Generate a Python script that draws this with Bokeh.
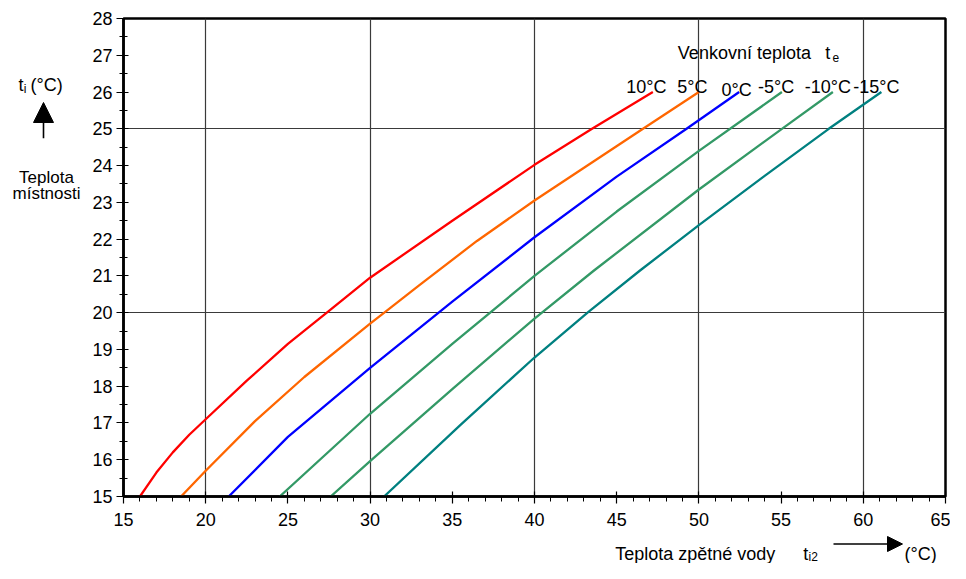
from bokeh.plotting import figure
from bokeh.models import Range1d, FixedTicker, Label, Arrow, NormalHead
from bokeh.layouts import column, row
from bokeh.embed import file_html
from bokeh.resources import INLINE

# ---- data ----
x_10 = [16.0, 17.0, 18.0, 19.0, 20.0, 22.5, 25.0, 27.5, 30.0, 35.0, 40.0, 43.5, 47.2]
y_10 = [15.0, 15.65, 16.2, 16.68, 17.1, 18.15, 19.15, 20.05, 20.95, 22.5, 24.02, 25.0, 26.0]

x_5 = [18.5, 20.0, 23.0, 26.0, 30.0, 31.0, 33.0, 36.5, 40.0, 46.6, 50.0]
y_5 = [15.0, 15.7, 17.05, 18.25, 19.7, 20.05, 20.75, 21.95, 23.05, 25.0, 26.0]

x_0 = [21.4, 25.0, 30.0, 35.0, 40.0, 45.0, 49.25, 52.45]
y_0 = [15.0, 16.62, 18.5, 20.3, 22.05, 23.7, 25.0, 26.0]

x_m5 = [24.5, 30.0, 35.0, 40.0, 45.0, 50.0, 55.05]
y_m5 = [15.0, 17.25, 19.15, 21.0, 22.75, 24.4, 26.0]

x_m10 = [27.6, 30.0, 35.0, 40.0, 43.6, 50.0, 55.05, 58.15]
y_m10 = [15.0, 15.96, 17.92, 19.84, 21.14, 23.35, 25.0, 26.0]

x_m15 = [30.85, 35.5, 40.0, 43.3, 46.4, 50.0, 54.0, 57.9, 61.1]
y_m15 = [15.0, 16.95, 18.78, 20.03, 21.14, 22.38, 23.72, 25.0, 26.0]

series_labels = ["10°C", "5°C", "0°C", "-5°C", "-10°C", "-15°C"]
series_colors = ["#FF0000", "#FF6600", "#0000FF", "#339966", "#339966", "#008080"]

x_ticks = [15, 20, 25, 30, 35, 40, 45, 50, 55, 60, 65]
y_ticks = list(range(15, 29))

FONT = "Liberation Sans"

MAIN_H = 535
LEFT_W = 84
BOTTOM_H = 28

p = figure(width=950 - LEFT_W, height=MAIN_H, output_backend="svg", toolbar_location=None,
           x_range=Range1d(15, 65), y_range=Range1d(15, 28),
           min_border_left=39, min_border_right=5, min_border_top=18, min_border_bottom=39)
p.background_fill_color = "white"
p.border_fill_color = "white"
p.outline_line_color = "black"
p.outline_line_width = 2.5

# axes
p.xaxis.ticker = FixedTicker(ticks=x_ticks, minor_ticks=list(range(15, 66)))
p.yaxis.ticker = FixedTicker(ticks=y_ticks, minor_ticks=[15 + 0.5 * i for i in range(27)])
for ax in (p.xaxis, p.yaxis):
    ax.axis_line_color = "black"
    ax.axis_line_width = 2.5
    ax.major_tick_line_color = "black"
    ax.major_tick_line_width = 1.2
    ax.minor_tick_line_color = "black"
    ax.minor_tick_line_width = 1.0
    ax.major_label_text_font = FONT
    ax.major_label_text_font_size = "18px"
    ax.major_label_text_color = "black"
p.xaxis.major_tick_out = 7
p.xaxis.major_tick_in = 5
p.xaxis.minor_tick_out = 5
p.xaxis.minor_tick_in = 0
p.xaxis.major_label_standoff = 9
p.yaxis.major_tick_out = 7
p.yaxis.major_tick_in = 5
p.yaxis.minor_tick_out = 4
p.yaxis.minor_tick_in = 4
p.yaxis.major_label_standoff = 4

# grid
p.xgrid.ticker = FixedTicker(ticks=[20, 30, 40, 50, 60])
p.ygrid.ticker = FixedTicker(ticks=[20, 25])
for g in (p.xgrid, p.ygrid):
    g.grid_line_color = "#3a3a3a"
    g.grid_line_width = 1.2
    g.grid_line_alpha = 1.0

# curves
xs = [x_10, x_5, x_0, x_m5, x_m10, x_m15]
ys = [y_10, y_5, y_0, y_m5, y_m10, y_m15]
for xv, yv, c in zip(xs, ys, series_colors):
    p.line(xv, yv, line_color=c, line_width=2.3, line_join="round")


def txt(fig, x, y, t, size="18px", align="left"):
    fig.add_layout(Label(x=x, y=y, text=t, text_align=align, text_baseline="alphabetic",
                         text_font=FONT, text_font_size=size, text_color="black"))


# series labels
label_pos = [(46.8, 26.14), (49.6, 26.14), (52.3, 26.06), (54.7, 26.14), (57.85, 26.14), (60.8, 26.14)]
for (lx, ly), t in zip(label_pos, series_labels):
    txt(p, lx, ly, t, align="center")

# legend title
txt(p, 48.72, 27.06, "Venkovní teplota")
txt(p, 57.68, 27.06, "t")
txt(p, 58.12, 26.95, "e", size="12px")


def blank(w, h):
    f = figure(width=w, height=h, output_backend="svg", toolbar_location=None,
               x_range=Range1d(0, w), y_range=Range1d(h, 0),
               min_border=0, min_border_left=0, min_border_right=0,
               min_border_top=0, min_border_bottom=0)
    f.axis.visible = False
    f.grid.visible = False
    f.outline_line_color = None
    f.background_fill_color = "white"
    f.border_fill_color = "white"
    return f


# left block: y-axis title
left = blank(LEFT_W, MAIN_H)
txt(left, 18, 74.6, "t")
txt(left, 23.3, 78.6, "i", size="12px")
txt(left, 30, 74.6, "(°C)")
left.add_layout(Arrow(end=NormalHead(size=20, fill_color="black", line_color="black"),
                      x_start=43, y_start=134, x_end=43, y_end=94,
                      line_color="black", line_width=1.6))
txt(left, 46, 177.8, "Teplota", size="17px", align="center")
txt(left, 46, 195.5, "místnosti", size="17px", align="center")

# bottom block: x-axis title
bottom = blank(950, BOTTOM_H)
txt(bottom, 614.7, 18, "Teplota zpětné vody")
txt(bottom, 802.8, 18, "t")
txt(bottom, 808.0, 21, "i2", size="12px")
bottom.add_layout(Arrow(end=NormalHead(size=15, fill_color="black", line_color="black"),
                        x_start=833, y_start=8.5, x_end=902, y_end=8.5,
                        line_color="black", line_width=1.4))
txt(bottom, 904, 18, "(°C)")

layout = column(row(left, p, spacing=0), bottom, spacing=0)

open("out.html", "w").write(file_html(layout, INLINE))
